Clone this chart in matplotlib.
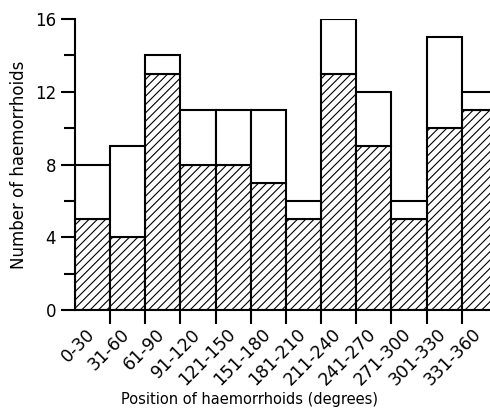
import matplotlib.pyplot as plt
import matplotlib.transforms as mtransforms
import numpy as np

# angular position bins and counts
labels = ['0-30', '31-60', '61-90', '91-120', '121-150', '151-180',
          '181-210', '211-240', '241-270', '271-300', '301-330', '331-360']
total = [8, 9, 14, 11, 11, 11, 6, 16, 12, 6, 15, 12]
hatched = [5, 4, 13, 8, 8, 7, 5, 13, 9, 5, 10, 11]

plt.rcParams['hatch.linewidth'] = 0.8
plt.rcParams['font.family'] = 'DejaVu Sans'

fig = plt.figure(figsize=(4.9, 4.13), dpi=100)
ax = fig.add_axes([0.153, 0.249, 0.861, 0.705])

x = np.arange(len(labels))
top = [t - h for t, h in zip(total, hatched)]
ax.bar(x, hatched, width=1.0, align='edge', color='white', edgecolor='black',
       hatch='////', linewidth=1.5)
ax.bar(x, top, bottom=hatched, width=1.0, align='edge', color='white',
       edgecolor='black', linewidth=1.5)

ax.set_xlim(0, 12)
ax.set_ylim(0, 16)
ax.spines['top'].set_visible(False)
ax.spines['right'].set_visible(False)
ax.spines['left'].set_linewidth(1.5)
ax.spines['bottom'].set_linewidth(1.5)

# ticks at bin edges, labels at bin centres
ax.set_xticks(np.arange(1, 12))
ax.set_xticklabels([])
ax.tick_params(axis='x', which='major', length=10, width=1.5, direction='out')
ax.set_xticks(x + 0.5, minor=True)
ax.set_xticklabels(labels, minor=True, rotation=45, ha='right',
                   rotation_mode='anchor', fontsize=12.5)
ax.tick_params(axis='x', which='minor', length=0, pad=8)
# nudge the rotated labels a little left/down, like the original
shift = mtransforms.ScaledTranslation(-7 / 100, -4 / 100, fig.dpi_scale_trans)
for lab in ax.get_xticklabels(minor=True):
    lab.set_transform(lab.get_transform() + shift)

ax.set_yticks([0, 4, 8, 12, 16])
ax.set_yticks([2, 6, 10, 14], minor=True)
ax.tick_params(axis='y', which='major', length=10, width=1.5, labelsize=12)
ax.tick_params(axis='y', which='minor', length=8, width=1.5)

ax.set_ylabel('Number of haemorrhoids', fontsize=12, labelpad=5)
fig.text(0.51, 0.015, 'Position of haemorrhoids (degrees)', ha='center',
         va='bottom', fontsize=10.5)

plt.savefig('out.png', dpi=100)
